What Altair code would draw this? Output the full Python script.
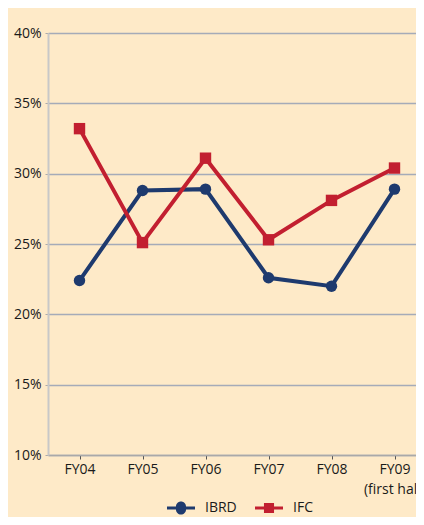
import altair as alt
import pandas as pd

years = ["FY04", "FY05", "FY06", "FY07", "FY08", "FY09"]
ibrd = [22.4, 28.8, 28.9, 22.6, 22.0, 28.9]
ifc = [33.2, 25.1, 31.1, 25.3, 28.1, 30.4]
series = ["IBRD", "IFC"]
colors = ["#1E3A6E", "#C21F30"]
yticks = [10, 15, 20, 25, 30, 35, 40]

rows = []
for s, vals in zip(series, [ibrd, ifc]):
    for yr, v in zip(years, vals):
        rows.append({"year": yr, "series": s, "value": v})
df = pd.DataFrame(rows)

FONT = "Open Sans"
FS = 14

x = alt.X("year:N", sort=years, title=None,
          scale=alt.Scale(paddingInner=0, paddingOuter=0, range=[0, 378]),
          axis=alt.Axis(labelAngle=0, bandPosition=0, tickSize=4,
                        labelFont=FONT, labelFontSize=FS, labelColor="#1a1a1a",
                        labelPadding=3, domainColor="#A9A9A9", domainWidth=1.5,
                        tickColor="#555555", ticks=True, grid=False, labelLineHeight=20,
                        labelExpr="datum.value == 'FY09' ? ['FY09', '(first half)'] : datum.value"))
y = alt.Y("value:Q", title=None,
          scale=alt.Scale(domain=[10, 40], nice=False, padding=0, zero=False),
          axis=alt.Axis(values=yticks, labelExpr="datum.value + '%'",
                        labelFont=FONT, labelFontSize=FS, labelColor="#1a1a1a",
                        tickSize=3, tickColor="#AAAAAA", labelPadding=4,
                        domainColor="#C8C8C8", domainWidth=2,
                        gridColor="#A5ABB8", gridWidth=1.5))

circ = "M-1,-0.11 L-0.36,-0.11 A0.36,0.36 0 0,1 0.36,-0.11 L1,-0.11 L1,0.11 L0.36,0.11 A0.36,0.36 0 0,1 -0.36,0.11 L-1,0.11 Z"
sq = "M-1,-0.11 L-0.36,-0.11 L-0.36,-0.36 L0.36,-0.36 L0.36,-0.11 L1,-0.11 L1,0.11 L0.36,0.11 L0.36,0.36 L-0.36,0.36 L-0.36,0.11 L-1,0.11 Z"

legend = alt.Legend(title=None, orient="none", direction="horizontal",
                    legendX=119, legendY=461,
                    symbolOpacity=1, symbolSize=784, symbolStrokeWidth=0,
                    labelFont=FONT, labelFontSize=FS, labelColor="#1a1a1a",
                    columnPadding=18, labelOffset=10)

color = alt.Color("series:N", scale=alt.Scale(domain=series, range=colors), legend=legend)

lines = alt.Chart(df).mark_line(strokeWidth=4).encode(x=x, y=y, color=color)

pts = alt.Chart(df).mark_point(filled=True, opacity=1, size=130).encode(
    x=x, y=y, color=color,
    shape=alt.condition(alt.datum.series == "IBRD", alt.value("circle"), alt.value("square")),
)

legend_layer = alt.Chart(df).mark_point(filled=True, opacity=0, size=1).encode(
    x=x, y=y, color=color,
    shape=alt.Shape("series:N", scale=alt.Scale(domain=series, range=[circ, sq]), legend=legend),
)

chart = alt.layer(legend_layer, lines, pts).properties(
    width=368, height=422,
    background="#FEEAC8",
    autosize=alt.AutoSizeParams(type="none"),
    padding={"top": 25, "left": 40, "right": 0, "bottom": 62},
).configure_view(stroke=None)

chart.save("out.html", embed_options={"renderer": "svg", "actions": False})
